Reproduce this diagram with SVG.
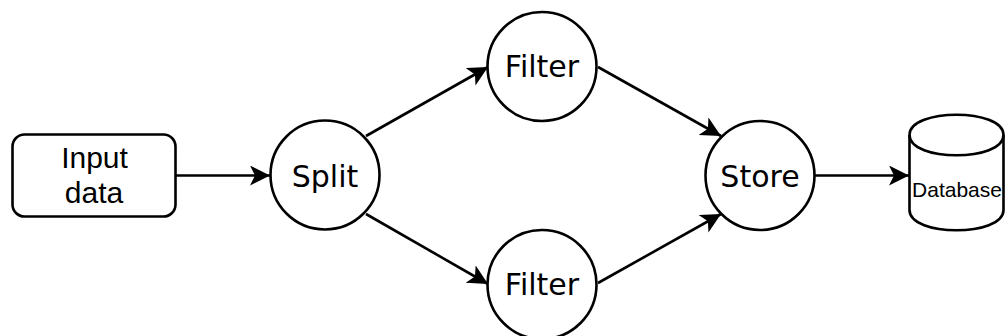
<svg xmlns="http://www.w3.org/2000/svg" width="1005" height="336" viewBox="0 0 1005 336">
<style>
.s{fill:#fff;stroke:#000;stroke-width:2.6}
.c{fill:none;stroke:#000;stroke-width:2.6}
.d{font-family:"DejaVu Sans",sans-serif;font-size:30px;text-anchor:middle;fill:#000}
.l{font-family:"Liberation Sans",Arial,sans-serif;font-size:30px;text-anchor:middle;fill:#000}
</style>
<defs>
<marker id="a" markerUnits="userSpaceOnUse" markerWidth="22" markerHeight="22" refX="20" refY="10" orient="auto" viewBox="0 0 22 22"><path d="M0 0L20 10L0 20L5 10Z" fill="#000"/></marker>
</defs>
<rect width="1005" height="336" fill="#fff"/>
<g id="connectors">
<path class="c" marker-end="url(#a)" d="M176 175.500H270"/>
<path class="c" marker-end="url(#a)" d="M366 136L488 67"/>
<path class="c" marker-end="url(#a)" d="M366 214L488 284"/>
<path class="c" marker-end="url(#a)" d="M598 67L721 136"/>
<path class="c" marker-end="url(#a)" d="M598 283L721 214"/>
<path class="c" marker-end="url(#a)" d="M815 175.500H909"/>
</g>
<g id="input"><rect class="s" x="12.500" y="134.500" width="163" height="82" rx="12"/><text class="l" x="94.500" y="168">Input</text><text class="l" x="94" y="203">data</text></g>
<g id="split"><circle class="s" cx="325" cy="175" r="54.500"/><text class="d" x="325" y="187">Split</text></g>
<g id="filter1"><circle class="s" cx="542" cy="66.500" r="54.500"/><text class="d" x="542" y="77">Filter</text></g>
<g id="filter2"><circle class="s" cx="542" cy="284.500" r="54.500"/><text class="d" x="542" y="295">Filter</text></g>
<g id="store"><circle class="s" cx="760" cy="175.500" r="54.500"/><text class="d" x="760" y="187">Store</text></g>
<g id="database"><path class="s" d="M909.500 135C909.500 108 1003.500 108 1003.500 135V210C1003.500 237 909.500 237 909.500 210Z"/><path class="c" d="M909.500 135C909.500 162 1003.500 162 1003.500 135"/><text x="957" y="197" font-family="'Liberation Sans',Arial,sans-serif" font-size="21" text-anchor="middle">Database</text></g>
</svg>
